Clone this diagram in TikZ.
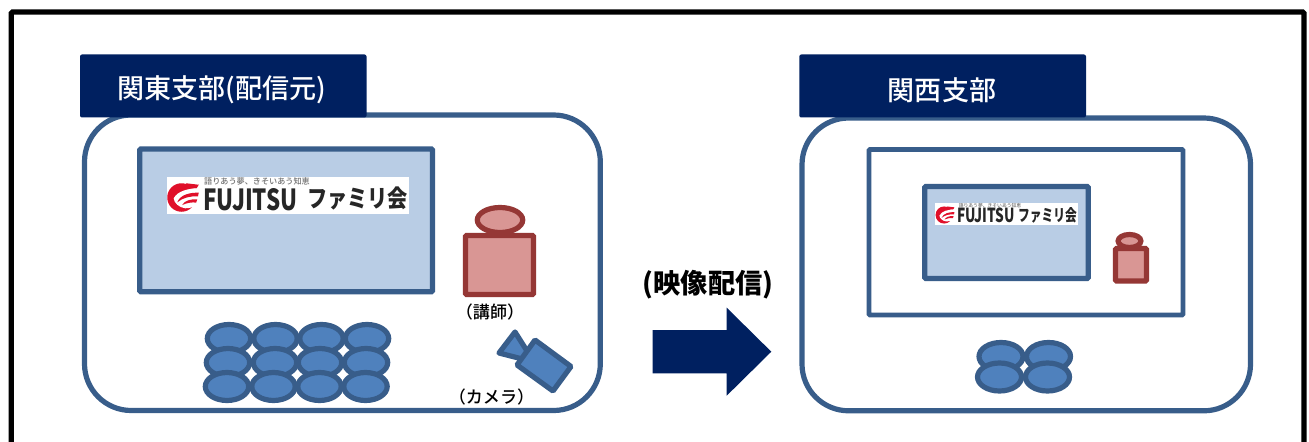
\documentclass[tikz,border=0pt]{standalone}
\usepackage{fontspec}
\setmainfont{Noto Sans CJK JP Medium}
\newfontfamily\jpblack{Noto Sans CJK JP Black}
\definecolor{navy}{HTML}{002060}
\definecolor{steel}{HTML}{385D8A}
\definecolor{paleblue}{HTML}{B9CDE5}
\definecolor{midblue}{HTML}{4F81BD}
\definecolor{darkred}{HTML}{953735}
\definecolor{palered}{HTML}{D99694}
\definecolor{logored}{HTML}{E0102A}
\tikzset{
  px/.style={x=0.75pt,y=-0.75pt},
  room/.style={draw=steel,line width=3.9pt,fill=white,rounded corners=35pt,line join=round},
  innerroom/.style={draw=steel,line width=3.7pt,fill=white,rounded corners=0.8pt},
  screen/.style={draw=steel,line width=3.9pt,fill=paleblue,rounded corners=0.8pt},
  tab/.style={fill=navy,rounded corners=1.5pt},
  tabtext/.style={text=white,font=\fontsize{20.3}{22}\selectfont,inner sep=0pt},
  seat/.style={draw=steel,line width=3.9pt,fill=midblue},
  body/.style={draw=darkred,line width=3.9pt,fill=palered,rounded corners=0.8pt},
  small/.style={text=black,font=\fontsize{12.8}{14}\selectfont,inner sep=0pt},
  logotext/.style={inner sep=0pt,text=black!85,font=\jpblack},
  logosmall/.style={inner sep=0pt,text=black!55},
}
\newcommand{\logoicon}[3]{%
  \begin{scope}[shift={(#1,#2)},x=#3*0.75pt,y=-#3*0.75pt]
    \fill[logored] (-0.1,0) circle (0.95);
    \fill[logored] (0.2,-0.95) -- (1.05,-0.85) -- (0.9,-0.6) -- (0.2,-0.6) -- cycle;
    \fill[white] (0.15,0.72) .. controls (0.5,0.72) and (0.8,0.6) .. (1.1,0.45) -- (1.1,-0.62) .. controls (0.4,-0.62) and (-0.35,-0.45) .. (-0.62,0.05) .. controls (-0.62,0.35) and (-0.25,0.68) .. (0.15,0.72) -- cycle;
    \fill[logored] (-0.38,0.32) .. controls (-0.2,-0.18) and (0.45,-0.34) .. (1.05,-0.32) -- (1.0,-0.08) .. controls (0.5,-0.1) and (0,0) .. (-0.38,0.32) -- cycle;
    \fill[logored] (-0.05,0.5) .. controls (0.1,0.2) and (0.5,0.1) .. (0.95,0.12) -- (0.88,0.34) .. controls (0.6,0.3) and (0.25,0.36) .. (-0.05,0.5) -- cycle;
  \end{scope}}
\begin{document}
\begin{tikzpicture}[px]
\useasboundingbox (0,0) rectangle (1309,442);
% outer frame
\draw[black,line width=4pt,rounded corners=1pt] (11.3,450) -- (11.3,12) -- (1304,12) -- (1304,450);
% rooms
\draw[room] (84.5,115) rectangle (600.3,410.5);
\draw[room] (802,118) rectangle (1250.5,410.8);
% tabs
\fill[tab] (80,54.5) rectangle (366.5,117.5);
\fill[tab] (799.3,54.5) rectangle (1086,117.5);
\node[tabtext] (t1) at (222,90) {関東支部(配信元)};
\node[tabtext] (t2) at (942,90) {関西支部};
% left screen
\draw[screen] (139.8,149) rectangle (432.5,291.7);
\fill[white] (166.7,176.7) rectangle (409.3,214);
\logoicon{183}{197.5}{15}
\node[logosmall,font=\fontsize{6.1}{7}\selectfont] (l1a) at (257,181) {語りあう夢、きそいあう知恵};
\node[logotext] (l1b) at (250.5,199.2) {\resizebox{71pt}{16.5pt}{FUJITSU}};
\node[logotext] (l1c) at (357.5,198.5) {\resizebox{75.7pt}{15.5pt}{ファミリ会}};
% teacher left
\draw[body] (500,220) ellipse (22.7 and 12.5);
\draw[body] (465.5,235.5) rectangle (533.5,294.5);
\node[small] (k1) at (490,312) {（講師）};
% camera left
\draw[seat,line join=round] (515,332) -- (499,353) -- (534,362) -- cycle;
\draw[seat,rounded corners=0.8pt] (535,340) -- (571,366.5) -- (553,391) -- (517,365) -- cycle;
\node[small] (k2) at (491.5,397) {（カメラ）};
% seats left
\foreach \x/\y in {229/338.5,275.5/338.5,321.5/338.5,367/338.5,228/362.5,275/362.5,320/362.5,366/362.5,227/386.5,273.5/386.5,319.5/386.5,365.5/386.5}
  \draw[seat] (\x,\y) ellipse (21.7 and 14);
% arrow
\fill[navy] (652.7,330) -- (726.7,330) -- (726.7,307.7) -- (771.3,351.7) -- (726.7,395.7) -- (726.7,373.3) -- (652.7,373.3) -- cycle;
\node[inner sep=0pt,font=\jpblack\fontsize{20.4}{22}\selectfont] (ar) at (708,285) {(映像配信)};
% right inner
\draw[innerroom] (869,149.5) rectangle (1183,315);
\draw[screen] (924.7,186.5) rectangle (1088.3,278.5);
\fill[white] (935,202.7) rectangle (1077.7,225);
\logoicon{945}{215}{9}
\node[logosmall,font=\fontsize{3.6}{4}\selectfont] (r1a) at (990,205.5) {語りあう夢、きそいあう知恵};
\node[logotext] (r1b) at (986,215.7) {\resizebox{43.5pt}{11pt}{FUJITSU}};
\node[logotext] (r1c) at (1047.5,215.7) {\resizebox{44pt}{10.5pt}{ファミリ会}};
% teacher right
\draw[body] (1129.5,241) ellipse (11.4 and 6.5);
\draw[body] (1115.5,248.5) rectangle (1146.5,281);
% seats right
\foreach \x/\y in {1001/356.5,1048.5/356.5,999.5/377,1047.5/377}
  \draw[seat] (\x,\y) ellipse (22 and 14);
\end{tikzpicture}
\end{document}
